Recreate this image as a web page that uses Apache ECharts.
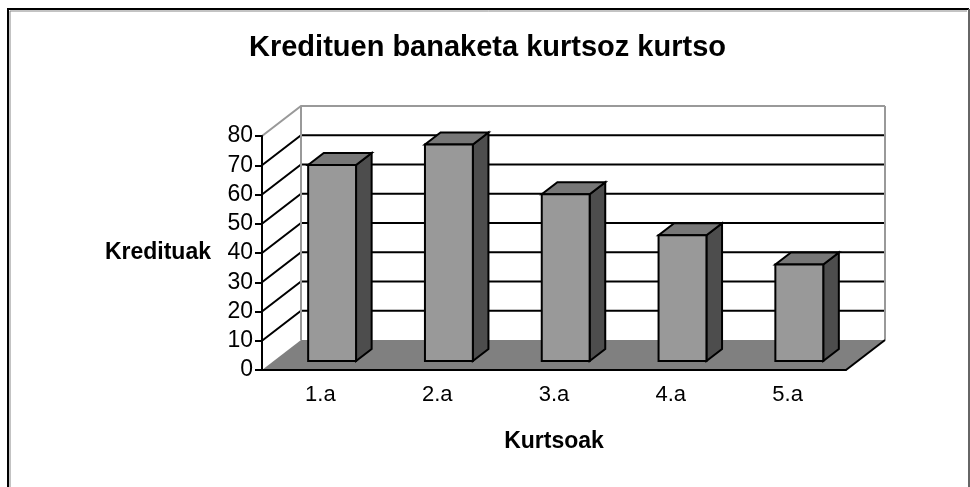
<!DOCTYPE html>
<html lang="eu">
  <head>
    <meta charset="UTF-8" />
    <title>Kredituen banaketa</title>
    <style>
      html, body { margin: 0; padding: 0; background: #fff; }
      #main { width: 970px; height: 487px; }
    </style>
  </head>
  <body>
    <div id="main"></div>
    <script src="https://cdn.jsdelivr.net/npm/echarts@6/dist/echarts.min.js"></script>
    <script>
      // data
      const titleText = "Kredituen banaketa kurtsoz kurtso";
      const categories = ["1.a", "2.a", "3.a", "4.a", "5.a"];
      const credits = [67, 74, 57, 43, 33];
      const yTicks = [0, 10, 20, 30, 40, 50, 60, 70, 80];
      const yName = "Kredituak";
      const xName = "Kurtsoak";

      // fake 3D: offset of the back wall relative to the front plane
      const DEPTH = [39, -30];
      const BAR_FRONT = 0.3;
      const BAR_BACK = 0.7;
      const FONT = "'Liberation Sans', Arial, sans-serif";

      const chart = echarts.init(document.getElementById("main"));

      function renderWalls(params, api) {
        const cs = params.coordSys;
        const dx = DEPTH[0], dy = DEPTH[1];
        const x0 = cs.x, x1 = cs.x + cs.width;
        const yTop = cs.y, yBot = cs.y + cs.height;
        const children = [];
        // floor
        children.push({
          type: "polygon",
          shape: { points: [[x0, yBot], [x1, yBot], [x1 + dx, yBot + dy], [x0 + dx, yBot + dy]] },
          style: { fill: "#808080" },
        });
        // grid lines on side + back wall
        yTicks.forEach((v, i) => {
          if (i === 0) return;
          const y = api.coord([0, v])[1];
          const last = i === yTicks.length - 1;
          children.push({
            type: "polyline",
            shape: { points: [[x0, y], [x0 + dx, y + dy], [x1 + dx, y + dy]] },
            style: { stroke: last ? "#999" : "#000", lineWidth: 2, fill: null },
          });
        });
        // back wall edges
        children.push({
          type: "line",
          shape: { x1: x0 + dx, y1: yTop + dy, x2: x0 + dx, y2: yBot + dy },
          style: { stroke: "#999", lineWidth: 2 },
        });
        children.push({
          type: "line",
          shape: { x1: x1 + dx, y1: yTop + dy, x2: x1 + dx, y2: yBot + dy },
          style: { stroke: "#999", lineWidth: 2 },
        });
        // floor right edge
        children.push({
          type: "line",
          shape: { x1: x1, y1: yBot, x2: x1 + dx, y2: yBot + dy },
          style: { stroke: "#000", lineWidth: 2 },
        });
        return { type: "group", children: children };
      }

      function renderBar(params, api) {
        const base = api.coord([api.value(0), 0]);
        const top = api.coord([api.value(0), api.value(1)]);
        const w = api.size([1, 0])[0] * 0.41;
        const fx = DEPTH[0] * BAR_FRONT, fy = DEPTH[1] * BAR_FRONT;
        const bx = DEPTH[0] * (BAR_BACK - BAR_FRONT), by = DEPTH[1] * (BAR_BACK - BAR_FRONT);
        const L = base[0] - w / 2 + fx, R = L + w;
        const T = top[1] + fy, B = base[1] + fy;
        const edge = { stroke: "#000", lineWidth: 2, lineJoin: "miter" };
        return {
          type: "group",
          children: [
            {
              type: "polygon",
              shape: { points: [[R, T], [R + bx, T + by], [R + bx, B + by], [R, B]] },
              style: Object.assign({ fill: "#4d4d4d" }, edge),
            },
            {
              type: "polygon",
              shape: { points: [[L, T], [R, T], [R + bx, T + by], [L + bx, T + by]] },
              style: Object.assign({ fill: "#777777" }, edge),
            },
            {
              type: "rect",
              shape: { x: L, y: T, width: w, height: B - T },
              style: Object.assign({ fill: "#999999" }, edge),
            },
          ],
        };
      }

      const option = {
        animation: false,
        backgroundColor: "#fff",
        title: {
          text: titleText,
          left: 244,
          top: 28,
          textStyle: { fontFamily: FONT, fontSize: 29, fontWeight: "bold", color: "#000" },
        },
        graphic: [
          {
            type: "polyline",
            shape: { points: [[8, 495], [8, 9], [969, 9]] },
            style: { stroke: "#000", lineWidth: 2, fill: null },
          },
          {
            type: "polyline",
            shape: { points: [[10, 495], [10, 11], [967, 11]] },
            style: { stroke: "#888", lineWidth: 1, fill: null },
          },
          {
            type: "line",
            shape: { x1: 969, y1: 9, x2: 969, y2: 495 },
            style: { stroke: "#666", lineWidth: 2 },
          },
        ],
        grid: { left: 262, top: 136, width: 584, height: 234, containLabel: false },
        xAxis: {
          type: "category",
          data: categories,
          z: 10,
          boundaryGap: true,
          axisLine: { lineStyle: { color: "#000", width: 2 } },
          axisTick: { length: 8, lineStyle: { color: "#000", width: 2 } },
          axisLabel: { fontFamily: FONT, fontSize: 22, color: "#000", margin: 14 },
          splitLine: { show: false },
          name: xName,
          nameLocation: "middle",
          nameGap: 60,
          nameTextStyle: { fontFamily: FONT, fontSize: 23, fontWeight: "bold", color: "#000" },
        },
        yAxis: {
          type: "value",
          min: yTicks[0],
          max: yTicks[yTicks.length - 1],
          interval: yTicks[1] - yTicks[0],
          z: 10,
          axisLine: { show: true, lineStyle: { color: "#000", width: 2 } },
          axisTick: { show: true, length: 7, lineStyle: { color: "#000", width: 2 } },
          axisLabel: { fontFamily: FONT, fontSize: 23, color: "#000", margin: 9 },
          splitLine: { show: false },
          name: yName,
          nameLocation: "middle",
          nameRotate: 0,
          nameGap: 51,
          nameTextStyle: { fontFamily: FONT, fontSize: 23, fontWeight: "bold", color: "#000" },
        },
        series: [
          {
            type: "custom",
            z: 1,
            clip: false,
            silent: true,
            data: [[0, 0]],
            renderItem: renderWalls,
          },
          {
            type: "custom",
            z: 3,
            clip: false,
            data: categories.map((c, i) => [i, credits[i]]),
            encode: { x: 0, y: 1 },
            renderItem: renderBar,
          },
        ],
      };

      chart.setOption(option);
    </script>
  </body>
</html>
